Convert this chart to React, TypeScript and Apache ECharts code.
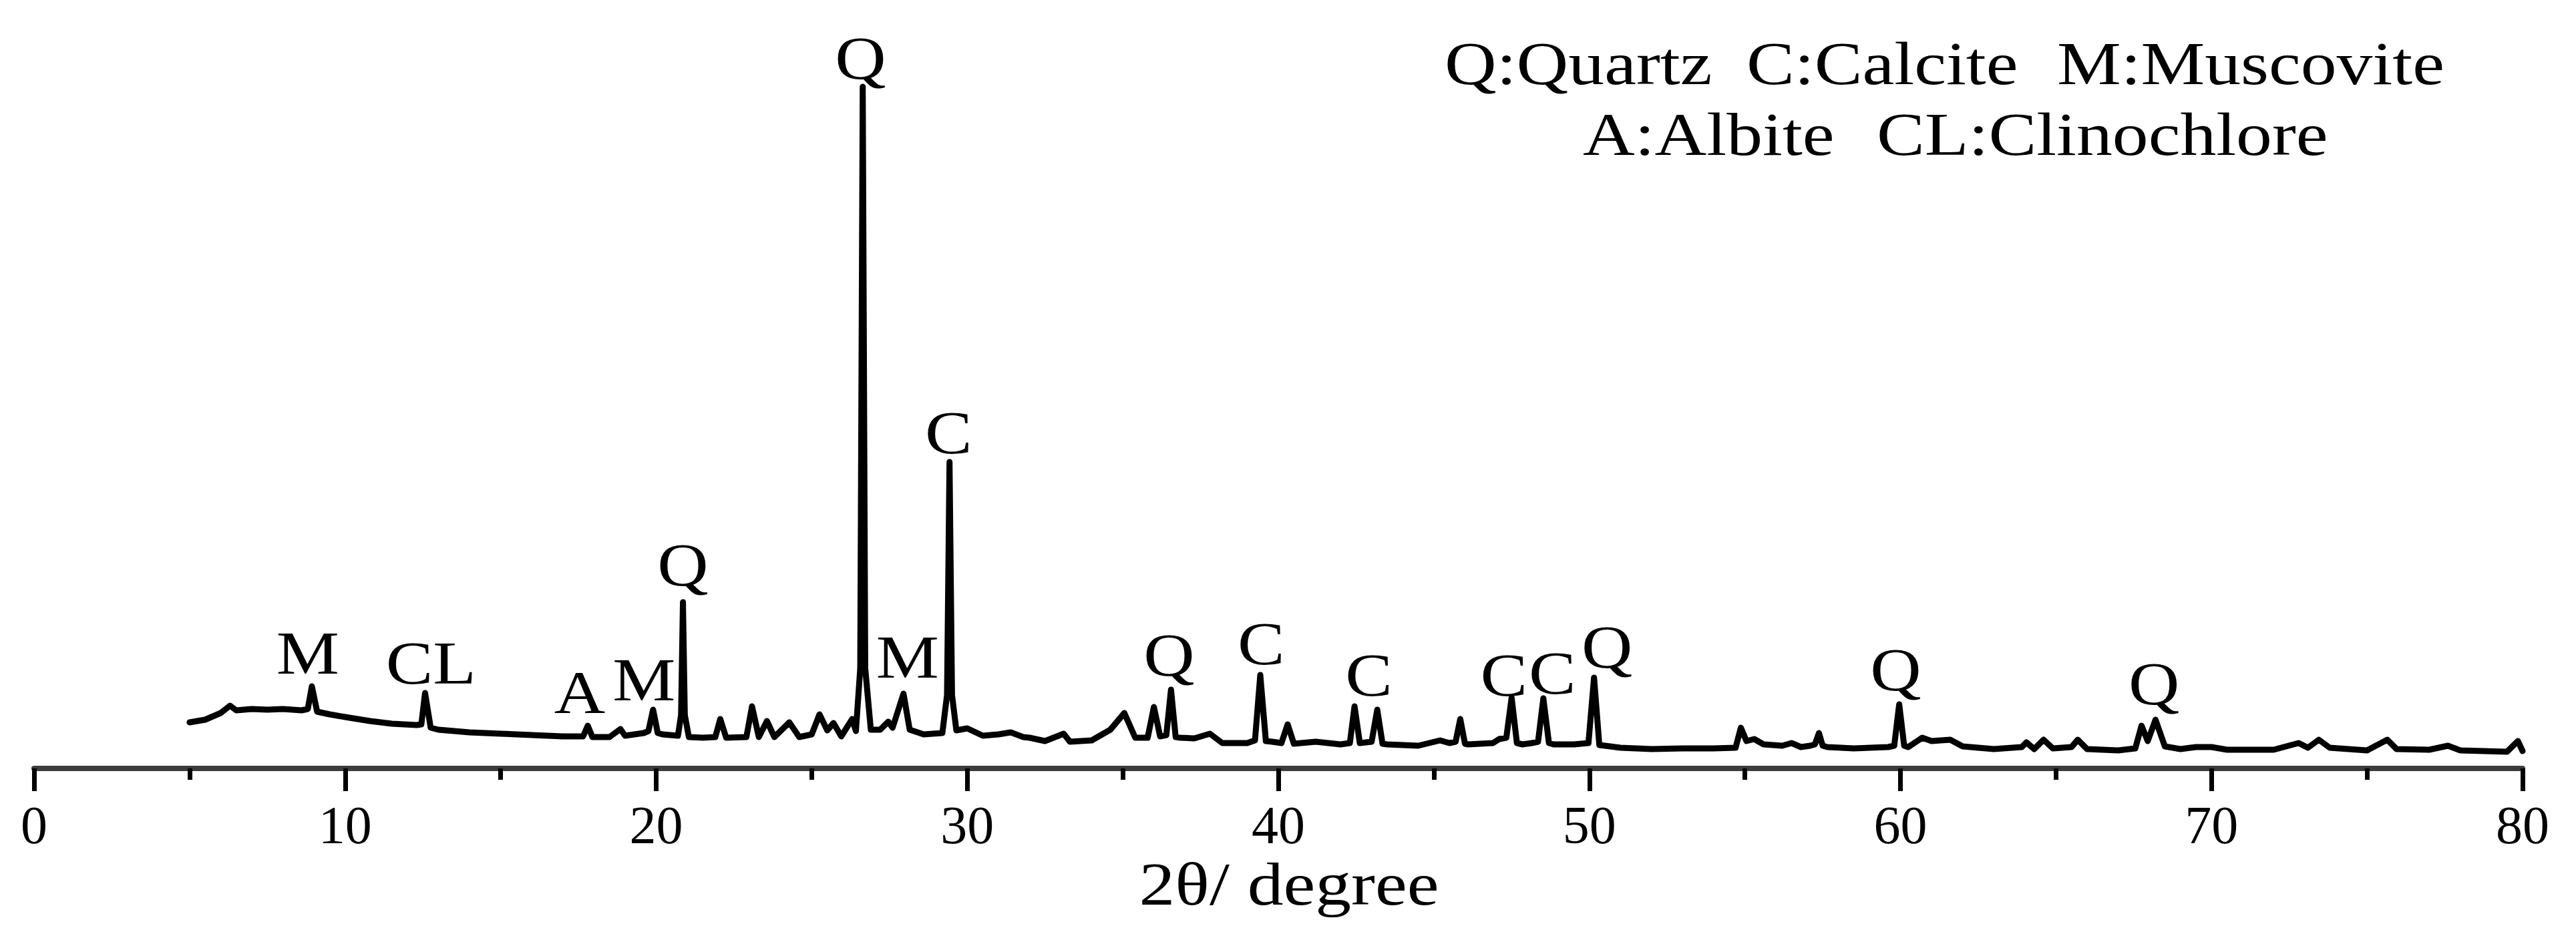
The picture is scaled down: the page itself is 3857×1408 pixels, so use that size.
import React, { useEffect, useRef } from 'react';
import * as echarts from 'echarts';

// XRD pattern: [2θ (degree), intensity (a.u.)]
const xrdPattern: [number, number][] = [
  [5.0, 69], [5.5, 73], [6.0, 83], [6.3, 94], [6.5, 87], [7.0, 89], [7.5, 88], [8.0, 89], [8.6, 87], [8.8, 89],
  [8.93, 123], [9.1, 85], [9.5, 81], [10.0, 77], [10.8, 71], [11.5, 67], [12.3, 65], [12.45, 66], [12.57, 113], [12.75, 61],
  [13.0, 58], [14.0, 54], [15.0, 52], [16.0, 50], [17.0, 48], [17.65, 48], [17.8, 64], [17.95, 47], [18.5, 47], [18.85, 59],
  [19.0, 49], [19.6, 53], [19.75, 56], [19.9, 88], [20.05, 53], [20.2, 51], [20.7, 49], [20.8, 80], [20.86, 249], [20.92, 80],
  [21.05, 47], [21.5, 46], [21.9, 47], [22.06, 74], [22.25, 46], [22.9, 47], [23.08, 93], [23.3, 47], [23.56, 71], [23.8, 47],
  [24.28, 69], [24.6, 47], [25.0, 51], [25.25, 81], [25.5, 57], [25.7, 68], [25.95, 48], [26.3, 74], [26.42, 56], [26.56, 150],
  [26.64, 1021], [26.72, 150], [26.9, 58], [27.2, 58], [27.46, 70], [27.6, 61], [27.95, 112], [28.15, 58], [28.6, 51], [29.2, 53],
  [29.35, 110], [29.43, 459], [29.51, 110], [29.65, 57], [30.0, 60], [30.5, 49], [31.0, 51], [31.4, 54], [31.8, 47], [32.0, 46],
  [32.5, 41], [33.1, 52], [33.3, 40], [34.0, 42], [34.6, 58], [35.05, 83], [35.4, 46], [35.8, 46], [36.0, 92], [36.2, 48],
  [36.4, 50], [36.55, 118], [36.7, 47], [36.85, 46], [37.3, 45], [37.8, 52], [38.2, 38], [39.0, 38], [39.25, 42], [39.42, 140],
  [39.6, 41], [39.8, 40], [40.1, 38], [40.3, 66], [40.5, 37], [41.2, 40], [42.0, 36], [42.3, 38], [42.45, 93], [42.62, 38],
  [43.0, 40], [43.18, 88], [43.35, 37], [43.5, 36], [44.5, 34], [45.2, 42], [45.5, 38], [45.7, 40], [45.85, 74], [46.0, 37],
  [46.1, 36], [46.9, 38], [47.1, 44], [47.33, 46], [47.5, 106], [47.67, 38], [47.85, 36], [48.15, 38], [48.35, 40], [48.52, 105],
  [48.7, 38], [48.85, 36], [49.5, 36], [49.97, 38], [50.15, 136], [50.32, 35], [50.5, 34], [51.0, 31], [52.0, 29], [53.0, 30],
  [54.0, 30], [54.7, 31], [54.87, 61], [55.05, 41], [55.3, 44], [55.6, 36], [56.2, 34], [56.5, 38], [56.8, 32], [57.1, 34],
  [57.25, 36], [57.38, 53], [57.5, 34], [57.65, 32], [58.5, 30], [59.6, 32], [59.8, 34], [59.96, 96], [60.12, 34], [60.25, 32],
  [60.7, 46], [61.0, 41], [61.6, 43], [62.0, 33], [63.0, 29], [63.9, 32], [64.05, 39], [64.3, 29], [64.6, 43], [64.9, 30],
  [65.5, 32], [65.7, 43], [66.0, 29], [67.0, 27], [67.55, 30], [67.75, 64], [67.95, 41], [68.2, 73], [68.5, 33], [69.0, 29],
  [69.5, 32], [70.0, 32], [70.5, 28], [72.0, 28], [72.8, 38], [73.1, 31], [73.45, 43], [73.8, 31], [75.0, 27], [75.65, 43],
  [75.95, 29], [77.0, 28], [77.6, 34], [78.0, 27], [79.5, 25], [79.85, 41], [80.0, 26],
];

// Peak phase labels (text, 2θ of label centre, height of label centre in a.u.)
const peakLabelText = ['M', 'CL', 'A', 'M', 'Q', 'Q', 'M', 'C', 'Q', 'C', 'C', 'C', 'C', 'Q', 'Q', 'Q'];
const peakLabelX = [8.8, 12.76, 17.54, 19.61, 20.86, 26.57, 28.08, 29.4, 36.49, 39.45, 42.91, 47.25, 48.81, 50.57, 59.85, 68.15];
const peakLabelY = [173, 158, 114, 133, 305, 1064, 167, 503, 170, 187, 140, 140, 143, 182, 148, 127];

// Legend of phases (two rows)
const legendRow1 = ['Q:Quartz', 'C:Calcite', 'M:Muscovite'];
const legendRow2 = ['A:Albite', 'CL:Clinochlore'];

// Axis
const xMin = 0;
const xMax = 80;
const xInterval = 10;
const xTitle = '2θ/ degree';

const FONT = "'Liberation Serif', 'Times New Roman', serif";

export default function App() {
  const ref = useRef<HTMLDivElement>(null);

  useEffect(() => {
    if (!ref.current) return;
    const chart = echarts.init(ref.current, null, { renderer: 'svg' });
    chart.setOption({
      animation: false,
      backgroundColor: '#ffffff',
      grid: { left: 51, right: 80, top: 101, bottom: 257, containLabel: false },
      xAxis: {
        type: 'value',
        min: xMin,
        max: xMax,
        interval: xInterval,
        axisLine: { show: true, lineStyle: { color: '#3c3c3c', width: 8 } },
        axisTick: { show: true, inside: false, length: 34, lineStyle: { color: '#000', width: 7 } },
        minorTick: { show: true, splitNumber: 2, length: 17, lineStyle: { color: '#000', width: 7 } },
        splitLine: { show: false },
        minorSplitLine: { show: false },
        axisLabel: { show: true, margin: 45, fontSize: 80, fontFamily: FONT, color: '#000' },
      },
      yAxis: {
        type: 'value',
        min: 0,
        max: 1050,
        show: false,
        splitLine: { show: false },
      },
      series: [
        {
          type: 'line',
          data: xrdPattern,
          showSymbol: false,
          symbol: 'none',
          smooth: false,
          lineStyle: { color: '#000', width: 9, join: 'round', cap: 'round' },
          silent: true,
        },
      ],
    });

    const textStyle = (text: string, align: string, size: number) => ({
      text,
      fontSize: size,
      fontFamily: FONT,
      fill: '#000',
      align,
      verticalAlign: 'middle',
      textAlign: align,
      textVerticalAlign: 'middle',
    });

    const labels = peakLabelText.map((t, i) => {
      const p = chart.convertToPixel({ xAxisIndex: 0, yAxisIndex: 0 }, [peakLabelX[i], peakLabelY[i]]) as number[];
      return { type: 'text', x: p[0], y: p[1], scaleX: 1.15, silent: true, style: textStyle(t, 'center', 92) };
    });

    const row1X = [2163, 2615, 3080];
    const row2X = [2370, 2810];
    const legend = [
      ...legendRow1.map((t, i) => ({ type: 'text', x: row1X[i], y: 95, scaleX: 1.17, silent: true, style: textStyle(t, 'left', 92) })),
      ...legendRow2.map((t, i) => ({ type: 'text', x: row2X[i], y: 201, scaleX: 1.17, silent: true, style: textStyle(t, 'left', 92) })),
    ];

    const title = { type: 'text', x: 1930, y: 1324, scaleX: 1.17, silent: true, style: textStyle(xTitle, 'center', 92) };

    chart.setOption({ graphic: [...labels, ...legend, title] });

    return () => chart.dispose();
  }, []);

  return (
    <div
      ref={ref}
      style={{ position: 'absolute', left: 0, top: 0, width: 3857, height: 1408, background: '#fff' }}
    />
  );
}
